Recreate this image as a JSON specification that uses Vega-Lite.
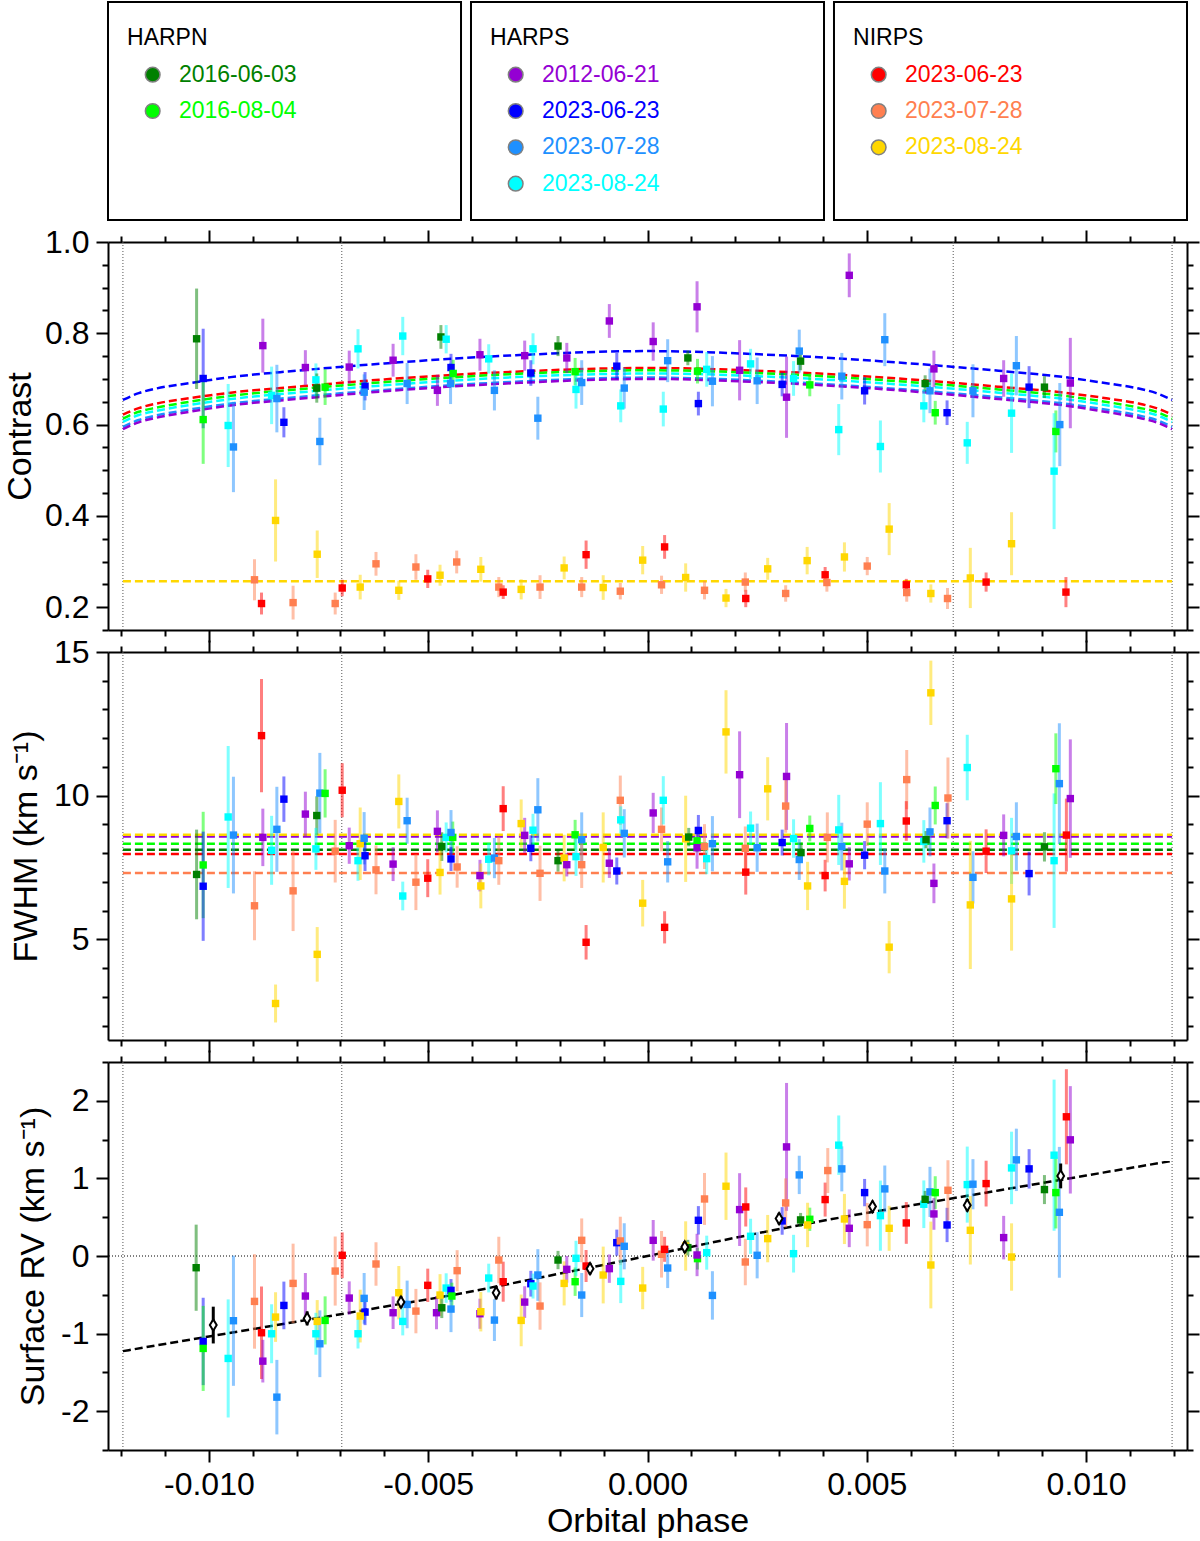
{
  "$schema": "https://vega.github.io/schema/vega-lite/v6.json",
  "background": "white",
  "padding": {"left": 3, "top": 1, "right": 0, "bottom": 0},
  "bounds": "flush",
  "spacing": 22,
  "config": {
    "view": {"stroke": null},
    "font": "Liberation Sans",
    "axis": {
      "grid": false, "domainColor": "black", "domainWidth": 2, "tickColor": "black", "tickWidth": 2,
      "labelFont": "Liberation Sans", "labelFontSize": 32, "labelColor": "black", "labelPadding": 7,
      "titleFont": "Liberation Sans", "titleFontSize": 34, "titleFontWeight": "normal", "titleColor": "black",
      "labelOverlap": false, "labelFlush": false
    }
  },
  "datasets": {
    "leg": [
      {"g": "HARPN", "r": 0, "t": "HARPN", "k": ""},
      {"g": "HARPN", "r": 1, "t": "2016-06-03", "k": "N1"},
      {"g": "HARPN", "r": 2, "t": "2016-08-04", "k": "N2"},
      {"g": "HARPS", "r": 0, "t": "HARPS", "k": ""},
      {"g": "HARPS", "r": 1, "t": "2012-06-21", "k": "S1"},
      {"g": "HARPS", "r": 2, "t": "2023-06-23", "k": "S2"},
      {"g": "HARPS", "r": 3, "t": "2023-07-28", "k": "S3"},
      {"g": "HARPS", "r": 4, "t": "2023-08-24", "k": "S4"},
      {"g": "NIRPS", "r": 0, "t": "NIRPS", "k": ""},
      {"g": "NIRPS", "r": 1, "t": "2023-06-23", "k": "R1"},
      {"g": "NIRPS", "r": 2, "t": "2023-07-28", "k": "R2"},
      {"g": "NIRPS", "r": 3, "t": "2023-08-24", "k": "R3"}
    ],
    "vl": [{"x": -0.01196}, {"x": -0.00697}, {"x": 0.00697}, {"x": 0.01196}],
    "bins": [
      {"x": -0.0099, "y": -0.89, "e": 0.237},
      {"x": -0.00776, "y": -0.804, "e": 0.09},
      {"x": -0.00562, "y": -0.594, "e": 0.075},
      {"x": -0.00345, "y": -0.473, "e": 0.086},
      {"x": -0.00131, "y": -0.163, "e": 0.075},
      {"x": 0.00085, "y": 0.116, "e": 0.075},
      {"x": 0.003, "y": 0.482, "e": 0.075},
      {"x": 0.00513, "y": 0.637, "e": 0.075},
      {"x": 0.00729, "y": 0.654, "e": 0.08},
      {"x": 0.00942, "y": 1.032, "e": 0.16}
    ],
    "mdl": [
      {"p": "c", "k": "S2", "x": -0.01196, "y": 0.654}, {"p": "c", "k": "S2", "x": -0.0116, "y": 0.669}, {"p": "c", "k": "S2", "x": -0.0112, "y": 0.679}, {"p": "c", "k": "S2", "x": -0.0105, "y": 0.69}, {"p": "c", "k": "S2", "x": -0.0095, "y": 0.704}, {"p": "c", "k": "S2", "x": -0.008, "y": 0.718}, {"p": "c", "k": "S2", "x": -0.006, "y": 0.734}, {"p": "c", "k": "S2", "x": -0.003, "y": 0.752}, {"p": "c", "k": "S2", "x": 0, "y": 0.761}, {"p": "c", "k": "S2", "x": 0.003, "y": 0.752}, {"p": "c", "k": "S2", "x": 0.006, "y": 0.734}, {"p": "c", "k": "S2", "x": 0.008, "y": 0.718}, {"p": "c", "k": "S2", "x": 0.0095, "y": 0.704}, {"p": "c", "k": "S2", "x": 0.0105, "y": 0.69}, {"p": "c", "k": "S2", "x": 0.0112, "y": 0.679}, {"p": "c", "k": "S2", "x": 0.0116, "y": 0.669}, {"p": "c", "k": "S2", "x": 0.01196, "y": 0.654},
      {"p": "c", "k": "R1", "x": -0.01196, "y": 0.622}, {"p": "c", "k": "R1", "x": -0.0116, "y": 0.636}, {"p": "c", "k": "R1", "x": -0.0112, "y": 0.646}, {"p": "c", "k": "R1", "x": -0.0105, "y": 0.657}, {"p": "c", "k": "R1", "x": -0.0095, "y": 0.67}, {"p": "c", "k": "R1", "x": -0.008, "y": 0.683}, {"p": "c", "k": "R1", "x": -0.006, "y": 0.699}, {"p": "c", "k": "R1", "x": -0.003, "y": 0.716}, {"p": "c", "k": "R1", "x": 0, "y": 0.724}, {"p": "c", "k": "R1", "x": 0.003, "y": 0.716}, {"p": "c", "k": "R1", "x": 0.006, "y": 0.699}, {"p": "c", "k": "R1", "x": 0.008, "y": 0.683}, {"p": "c", "k": "R1", "x": 0.0095, "y": 0.67}, {"p": "c", "k": "R1", "x": 0.0105, "y": 0.657}, {"p": "c", "k": "R1", "x": 0.0112, "y": 0.646}, {"p": "c", "k": "R1", "x": 0.0116, "y": 0.636}, {"p": "c", "k": "R1", "x": 0.01196, "y": 0.622},
      {"p": "c", "k": "N2", "x": -0.01196, "y": 0.613}, {"p": "c", "k": "N2", "x": -0.0116, "y": 0.628}, {"p": "c", "k": "N2", "x": -0.0112, "y": 0.637}, {"p": "c", "k": "N2", "x": -0.0105, "y": 0.649}, {"p": "c", "k": "N2", "x": -0.0095, "y": 0.663}, {"p": "c", "k": "N2", "x": -0.008, "y": 0.677}, {"p": "c", "k": "N2", "x": -0.006, "y": 0.693}, {"p": "c", "k": "N2", "x": -0.003, "y": 0.711}, {"p": "c", "k": "N2", "x": 0, "y": 0.719}, {"p": "c", "k": "N2", "x": 0.003, "y": 0.711}, {"p": "c", "k": "N2", "x": 0.006, "y": 0.693}, {"p": "c", "k": "N2", "x": 0.008, "y": 0.677}, {"p": "c", "k": "N2", "x": 0.0095, "y": 0.663}, {"p": "c", "k": "N2", "x": 0.0105, "y": 0.649}, {"p": "c", "k": "N2", "x": 0.0112, "y": 0.637}, {"p": "c", "k": "N2", "x": 0.0116, "y": 0.628}, {"p": "c", "k": "N2", "x": 0.01196, "y": 0.613},
      {"p": "c", "k": "S4", "x": -0.01196, "y": 0.606}, {"p": "c", "k": "S4", "x": -0.0116, "y": 0.621}, {"p": "c", "k": "S4", "x": -0.0112, "y": 0.63}, {"p": "c", "k": "S4", "x": -0.0105, "y": 0.642}, {"p": "c", "k": "S4", "x": -0.0095, "y": 0.656}, {"p": "c", "k": "S4", "x": -0.008, "y": 0.67}, {"p": "c", "k": "S4", "x": -0.006, "y": 0.686}, {"p": "c", "k": "S4", "x": -0.003, "y": 0.704}, {"p": "c", "k": "S4", "x": 0, "y": 0.712}, {"p": "c", "k": "S4", "x": 0.003, "y": 0.704}, {"p": "c", "k": "S4", "x": 0.006, "y": 0.686}, {"p": "c", "k": "S4", "x": 0.008, "y": 0.67}, {"p": "c", "k": "S4", "x": 0.0095, "y": 0.656}, {"p": "c", "k": "S4", "x": 0.0105, "y": 0.642}, {"p": "c", "k": "S4", "x": 0.0112, "y": 0.63}, {"p": "c", "k": "S4", "x": 0.0116, "y": 0.621}, {"p": "c", "k": "S4", "x": 0.01196, "y": 0.606},
      {"p": "c", "k": "S3", "x": -0.01196, "y": 0.595}, {"p": "c", "k": "S3", "x": -0.0116, "y": 0.61}, {"p": "c", "k": "S3", "x": -0.0112, "y": 0.62}, {"p": "c", "k": "S3", "x": -0.0105, "y": 0.632}, {"p": "c", "k": "S3", "x": -0.0095, "y": 0.646}, {"p": "c", "k": "S3", "x": -0.008, "y": 0.66}, {"p": "c", "k": "S3", "x": -0.006, "y": 0.676}, {"p": "c", "k": "S3", "x": -0.003, "y": 0.694}, {"p": "c", "k": "S3", "x": 0, "y": 0.703}, {"p": "c", "k": "S3", "x": 0.003, "y": 0.694}, {"p": "c", "k": "S3", "x": 0.006, "y": 0.676}, {"p": "c", "k": "S3", "x": 0.008, "y": 0.66}, {"p": "c", "k": "S3", "x": 0.0095, "y": 0.646}, {"p": "c", "k": "S3", "x": 0.0105, "y": 0.632}, {"p": "c", "k": "S3", "x": 0.0112, "y": 0.62}, {"p": "c", "k": "S3", "x": 0.0116, "y": 0.61}, {"p": "c", "k": "S3", "x": 0.01196, "y": 0.595},
      {"p": "c", "k": "S1", "x": -0.01196, "y": 0.59}, {"p": "c", "k": "S1", "x": -0.0116, "y": 0.605}, {"p": "c", "k": "S1", "x": -0.0112, "y": 0.615}, {"p": "c", "k": "S1", "x": -0.0105, "y": 0.627}, {"p": "c", "k": "S1", "x": -0.0095, "y": 0.642}, {"p": "c", "k": "S1", "x": -0.008, "y": 0.656}, {"p": "c", "k": "S1", "x": -0.006, "y": 0.673}, {"p": "c", "k": "S1", "x": -0.003, "y": 0.691}, {"p": "c", "k": "S1", "x": 0, "y": 0.7}, {"p": "c", "k": "S1", "x": 0.003, "y": 0.691}, {"p": "c", "k": "S1", "x": 0.006, "y": 0.673}, {"p": "c", "k": "S1", "x": 0.008, "y": 0.656}, {"p": "c", "k": "S1", "x": 0.0095, "y": 0.642}, {"p": "c", "k": "S1", "x": 0.0105, "y": 0.627}, {"p": "c", "k": "S1", "x": 0.0112, "y": 0.615}, {"p": "c", "k": "S1", "x": 0.0116, "y": 0.605}, {"p": "c", "k": "S1", "x": 0.01196, "y": 0.59},
      {"p": "c", "k": "R3", "x": -0.01196, "y": 0.257}, {"p": "c", "k": "R3", "x": 0.01196, "y": 0.257},
      {"p": "f", "k": "R2", "x": -0.01196, "y": 7.31}, {"p": "f", "k": "R2", "x": 0.01196, "y": 7.31},
      {"p": "f", "k": "R1", "x": -0.01196, "y": 7.97}, {"p": "f", "k": "R1", "x": 0.01196, "y": 7.97},
      {"p": "f", "k": "N1", "x": -0.01196, "y": 8.12}, {"p": "f", "k": "N1", "x": 0.01196, "y": 8.12},
      {"p": "f", "k": "N2", "x": -0.01196, "y": 8.33}, {"p": "f", "k": "N2", "x": 0.01196, "y": 8.33},
      {"p": "f", "k": "S1", "x": -0.01196, "y": 8.58}, {"p": "f", "k": "S1", "x": 0.01196, "y": 8.58},
      {"p": "f", "k": "R3", "x": -0.01196, "y": 8.64}, {"p": "f", "k": "R3", "x": 0.01196, "y": 8.64},
      {"p": "v", "k": "M", "x": -0.01196, "y": -1.226}, {"p": "v", "k": "M", "x": -0.01, "y": -1.037}, {"p": "v", "k": "M", "x": -0.008, "y": -0.847}, {"p": "v", "k": "M", "x": -0.006, "y": -0.653}, {"p": "v", "k": "M", "x": -0.0045, "y": -0.508}, {"p": "v", "k": "M", "x": -0.002, "y": -0.227}, {"p": "v", "k": "M", "x": 0, "y": 0.0}, {"p": "v", "k": "M", "x": 0.002, "y": 0.235}, {"p": "v", "k": "M", "x": 0.0045, "y": 0.506}, {"p": "v", "k": "M", "x": 0.006, "y": 0.651}, {"p": "v", "k": "M", "x": 0.008, "y": 0.844}, {"p": "v", "k": "M", "x": 0.01, "y": 1.037}, {"p": "v", "k": "M", "x": 0.01196, "y": 1.226}
    ],
    "pts": [
      {"p": "c", "k": "N1", "x": -0.01028, "y": 0.788, "e": 0.11},
      {"p": "c", "k": "S2", "x": -0.01013, "y": 0.701, "e": 0.109},
      {"p": "c", "k": "N2", "x": -0.01013, "y": 0.611, "e": 0.097},
      {"p": "c", "k": "S1", "x": -0.00877, "y": 0.773, "e": 0.059},
      {"p": "c", "k": "S4", "x": -0.00956, "y": 0.598, "e": 0.091},
      {"p": "c", "k": "S3", "x": -0.00944, "y": 0.551, "e": 0.099},
      {"p": "c", "k": "S4", "x": -0.00857, "y": 0.664, "e": 0.063},
      {"p": "c", "k": "S3", "x": -0.00845, "y": 0.657, "e": 0.074},
      {"p": "c", "k": "S2", "x": -0.00829, "y": 0.605, "e": 0.033},
      {"p": "c", "k": "S1", "x": -0.0078, "y": 0.725, "e": 0.038},
      {"p": "c", "k": "S4", "x": -0.00756, "y": 0.698, "e": 0.036},
      {"p": "c", "k": "N1", "x": -0.00754, "y": 0.68, "e": 0.032},
      {"p": "c", "k": "N2", "x": -0.00735, "y": 0.682, "e": 0.039},
      {"p": "c", "k": "S3", "x": -0.00747, "y": 0.563, "e": 0.052},
      {"p": "c", "k": "S1", "x": -0.0068, "y": 0.726, "e": 0.036},
      {"p": "c", "k": "S4", "x": -0.0066, "y": 0.766, "e": 0.043},
      {"p": "c", "k": "S2", "x": -0.00644, "y": 0.684, "e": 0.031},
      {"p": "c", "k": "S3", "x": -0.00646, "y": 0.671, "e": 0.039},
      {"p": "c", "k": "S4", "x": -0.00558, "y": 0.794, "e": 0.042},
      {"p": "c", "k": "S1", "x": -0.0058, "y": 0.741, "e": 0.036},
      {"p": "c", "k": "S3", "x": -0.00548, "y": 0.69, "e": 0.045},
      {"p": "c", "k": "S1", "x": -0.00479, "y": 0.675, "e": 0.034},
      {"p": "c", "k": "N1", "x": -0.00471, "y": 0.792, "e": 0.026},
      {"p": "c", "k": "S4", "x": -0.00459, "y": 0.787, "e": 0.031},
      {"p": "c", "k": "S2", "x": -0.00448, "y": 0.725, "e": 0.03},
      {"p": "c", "k": "S3", "x": -0.00449, "y": 0.69, "e": 0.045},
      {"p": "c", "k": "N2", "x": -0.00443, "y": 0.712, "e": 0.03},
      {"p": "c", "k": "R2", "x": -0.00896, "y": 0.26, "e": 0.045},
      {"p": "c", "k": "R1", "x": -0.0088, "y": 0.208, "e": 0.024},
      {"p": "c", "k": "R3", "x": -0.00848, "y": 0.39, "e": 0.09},
      {"p": "c", "k": "R2", "x": -0.00808, "y": 0.21, "e": 0.037},
      {"p": "c", "k": "R3", "x": -0.00753, "y": 0.316, "e": 0.052},
      {"p": "c", "k": "R2", "x": -0.00712, "y": 0.208, "e": 0.024},
      {"p": "c", "k": "R1", "x": -0.00696, "y": 0.242, "e": 0.018},
      {"p": "c", "k": "R3", "x": -0.00655, "y": 0.244, "e": 0.027},
      {"p": "c", "k": "R2", "x": -0.00619, "y": 0.295, "e": 0.026},
      {"p": "c", "k": "R3", "x": -0.00567, "y": 0.237, "e": 0.021},
      {"p": "c", "k": "R2", "x": -0.00528, "y": 0.288, "e": 0.028},
      {"p": "c", "k": "R1", "x": -0.00501, "y": 0.262, "e": 0.02},
      {"p": "c", "k": "R3", "x": -0.00473, "y": 0.27, "e": 0.023},
      {"p": "c", "k": "R2", "x": -0.00435, "y": 0.299, "e": 0.025},
      {"p": "c", "k": "S1", "x": -0.00382, "y": 0.753, "e": 0.035},
      {"p": "c", "k": "S4", "x": -0.00362, "y": 0.744, "e": 0.032},
      {"p": "c", "k": "S3", "x": -0.00349, "y": 0.675, "e": 0.044},
      {"p": "c", "k": "S1", "x": -0.0028, "y": 0.751, "e": 0.033},
      {"p": "c", "k": "S4", "x": -0.00261, "y": 0.766, "e": 0.034},
      {"p": "c", "k": "S2", "x": -0.00266, "y": 0.713, "e": 0.028},
      {"p": "c", "k": "S3", "x": -0.0025, "y": 0.614, "e": 0.047},
      {"p": "c", "k": "N1", "x": -0.00204, "y": 0.772, "e": 0.022},
      {"p": "c", "k": "S1", "x": -0.00184, "y": 0.746, "e": 0.033},
      {"p": "c", "k": "N2", "x": -0.00165, "y": 0.716, "e": 0.03},
      {"p": "c", "k": "S4", "x": -0.00163, "y": 0.677, "e": 0.042},
      {"p": "c", "k": "S3", "x": -0.0015, "y": 0.692, "e": 0.049},
      {"p": "c", "k": "S1", "x": -0.00087, "y": 0.827, "e": 0.037},
      {"p": "c", "k": "S2", "x": -0.0007, "y": 0.728, "e": 0.029},
      {"p": "c", "k": "S3", "x": -0.00053, "y": 0.68, "e": 0.045},
      {"p": "c", "k": "S4", "x": -0.00061, "y": 0.641, "e": 0.036},
      {"p": "c", "k": "S1", "x": 0.00013, "y": 0.782, "e": 0.042},
      {"p": "c", "k": "S3", "x": 0.00046, "y": 0.74, "e": 0.047},
      {"p": "c", "k": "S4", "x": 0.00036, "y": 0.634, "e": 0.038},
      {"p": "c", "k": "S1", "x": 0.00113, "y": 0.858, "e": 0.056},
      {"p": "c", "k": "N1", "x": 0.00092, "y": 0.746, "e": 0.016},
      {"p": "c", "k": "N2", "x": 0.00114, "y": 0.717, "e": 0.027},
      {"p": "c", "k": "S2", "x": 0.00116, "y": 0.646, "e": 0.026},
      {"p": "c", "k": "S4", "x": 0.00135, "y": 0.721, "e": 0.038},
      {"p": "c", "k": "S3", "x": 0.00148, "y": 0.695, "e": 0.055},
      {"p": "c", "k": "S1", "x": 0.0021, "y": 0.719, "e": 0.066},
      {"p": "c", "k": "S4", "x": 0.00235, "y": 0.733, "e": 0.033},
      {"p": "c", "k": "S3", "x": 0.0025, "y": 0.696, "e": 0.051},
      {"p": "c", "k": "S2", "x": 0.00307, "y": 0.688, "e": 0.026},
      {"p": "c", "k": "S1", "x": 0.00317, "y": 0.66, "e": 0.089},
      {"p": "c", "k": "S4", "x": 0.00333, "y": 0.701, "e": 0.038},
      {"p": "c", "k": "S3", "x": 0.00346, "y": 0.761, "e": 0.047},
      {"p": "c", "k": "N1", "x": 0.00349, "y": 0.739, "e": 0.02},
      {"p": "c", "k": "N2", "x": 0.0037, "y": 0.687, "e": 0.025},
      {"p": "c", "k": "R3", "x": -0.0038, "y": 0.283, "e": 0.027},
      {"p": "c", "k": "R2", "x": -0.00339, "y": 0.244, "e": 0.022},
      {"p": "c", "k": "R1", "x": -0.00329, "y": 0.233, "e": 0.015},
      {"p": "c", "k": "R3", "x": -0.00288, "y": 0.239, "e": 0.022},
      {"p": "c", "k": "R2", "x": -0.00245, "y": 0.244, "e": 0.026},
      {"p": "c", "k": "R3", "x": -0.0019, "y": 0.286, "e": 0.025},
      {"p": "c", "k": "R2", "x": -0.0015, "y": 0.244, "e": 0.022},
      {"p": "c", "k": "R1", "x": -0.0014, "y": 0.315, "e": 0.031},
      {"p": "c", "k": "R3", "x": -0.00101, "y": 0.243, "e": 0.027},
      {"p": "c", "k": "R2", "x": -0.00062, "y": 0.235, "e": 0.018},
      {"p": "c", "k": "R3", "x": -0.00011, "y": 0.303, "e": 0.031},
      {"p": "c", "k": "R1", "x": 0.00039, "y": 0.332, "e": 0.026},
      {"p": "c", "k": "R2", "x": 0.00032, "y": 0.249, "e": 0.02},
      {"p": "c", "k": "R3", "x": 0.00087, "y": 0.265, "e": 0.031},
      {"p": "c", "k": "R2", "x": 0.0013, "y": 0.237, "e": 0.02},
      {"p": "c", "k": "R3", "x": 0.00179, "y": 0.22, "e": 0.02},
      {"p": "c", "k": "R1", "x": 0.00224, "y": 0.219, "e": 0.019},
      {"p": "c", "k": "R2", "x": 0.00223, "y": 0.255, "e": 0.021},
      {"p": "c", "k": "R3", "x": 0.00274, "y": 0.284, "e": 0.024},
      {"p": "c", "k": "R2", "x": 0.00315, "y": 0.23, "e": 0.018},
      {"p": "c", "k": "R3", "x": 0.00364, "y": 0.302, "e": 0.03},
      {"p": "c", "k": "R1", "x": 0.00405, "y": 0.271, "e": 0.017},
      {"p": "c", "k": "R2", "x": 0.00409, "y": 0.254, "e": 0.02},
      {"p": "c", "k": "S1", "x": 0.0046, "y": 0.927, "e": 0.048},
      {"p": "c", "k": "S3", "x": 0.00443, "y": 0.706, "e": 0.051},
      {"p": "c", "k": "S4", "x": 0.00436, "y": 0.589, "e": 0.056},
      {"p": "c", "k": "S2", "x": 0.00495, "y": 0.674, "e": 0.03},
      {"p": "c", "k": "S3", "x": 0.00541, "y": 0.786, "e": 0.058},
      {"p": "c", "k": "S4", "x": 0.00531, "y": 0.552, "e": 0.057},
      {"p": "c", "k": "R3", "x": 0.00449, "y": 0.31, "e": 0.032},
      {"p": "c", "k": "R2", "x": 0.00501, "y": 0.29, "e": 0.02},
      {"p": "c", "k": "R3", "x": 0.00551, "y": 0.371, "e": 0.057},
      {"p": "c", "k": "R1", "x": 0.0059, "y": 0.249, "e": 0.013},
      {"p": "c", "k": "R2", "x": 0.00591, "y": 0.232, "e": 0.02},
      {"p": "c", "k": "R3", "x": 0.00646, "y": 0.23, "e": 0.02},
      {"p": "c", "k": "R2", "x": 0.00684, "y": 0.219, "e": 0.023},
      {"p": "c", "k": "N1", "x": 0.00633, "y": 0.69, "e": 0.018},
      {"p": "c", "k": "S4", "x": 0.0063, "y": 0.641, "e": 0.036},
      {"p": "c", "k": "S3", "x": 0.00644, "y": 0.674, "e": 0.049},
      {"p": "c", "k": "S1", "x": 0.00653, "y": 0.722, "e": 0.04},
      {"p": "c", "k": "N2", "x": 0.00656, "y": 0.626, "e": 0.026},
      {"p": "c", "k": "S2", "x": 0.00683, "y": 0.626, "e": 0.027},
      {"p": "c", "k": "S4", "x": 0.00729, "y": 0.56, "e": 0.046},
      {"p": "c", "k": "S3", "x": 0.00742, "y": 0.674, "e": 0.058},
      {"p": "c", "k": "R3", "x": 0.00736, "y": 0.264, "e": 0.066},
      {"p": "c", "k": "R1", "x": 0.00772, "y": 0.255, "e": 0.021},
      {"p": "c", "k": "R3", "x": 0.0083, "y": 0.339, "e": 0.069},
      {"p": "c", "k": "S1", "x": 0.00812, "y": 0.701, "e": 0.04},
      {"p": "c", "k": "S4", "x": 0.0083, "y": 0.625, "e": 0.087},
      {"p": "c", "k": "S3", "x": 0.00841, "y": 0.729, "e": 0.065},
      {"p": "c", "k": "S2", "x": 0.0087, "y": 0.682, "e": 0.046},
      {"p": "c", "k": "N1", "x": 0.00905, "y": 0.682, "e": 0.024},
      {"p": "c", "k": "N2", "x": 0.00931, "y": 0.585, "e": 0.046},
      {"p": "c", "k": "S4", "x": 0.00927, "y": 0.498, "e": 0.127},
      {"p": "c", "k": "S3", "x": 0.0094, "y": 0.6, "e": 0.091},
      {"p": "c", "k": "S1", "x": 0.00964, "y": 0.691, "e": 0.099},
      {"p": "c", "k": "R1", "x": 0.00954, "y": 0.233, "e": 0.033},

      {"p": "f", "k": "N1", "x": -0.01028, "y": 7.26, "e": 1.56},
      {"p": "f", "k": "N2", "x": -0.01013, "y": 7.59, "e": 1.85},
      {"p": "f", "k": "S2", "x": -0.01013, "y": 6.85, "e": 1.9},
      {"p": "f", "k": "S4", "x": -0.00956, "y": 9.26, "e": 2.47},
      {"p": "f", "k": "S3", "x": -0.00944, "y": 8.63, "e": 2.03},
      {"p": "f", "k": "R1", "x": -0.0088, "y": 12.09, "e": 1.97},
      {"p": "f", "k": "S1", "x": -0.00877, "y": 8.55, "e": 1.0},
      {"p": "f", "k": "R2", "x": -0.00896, "y": 6.17, "e": 1.2},
      {"p": "f", "k": "S4", "x": -0.00857, "y": 8.1, "e": 1.2},
      {"p": "f", "k": "S3", "x": -0.00845, "y": 8.83, "e": 1.48},
      {"p": "f", "k": "S2", "x": -0.00829, "y": 9.88, "e": 0.79},
      {"p": "f", "k": "R2", "x": -0.00808, "y": 6.69, "e": 1.4},
      {"p": "f", "k": "R3", "x": -0.00848, "y": 2.77, "e": 0.66},
      {"p": "f", "k": "S1", "x": -0.0078, "y": 9.36, "e": 0.78},
      {"p": "f", "k": "N1", "x": -0.00754, "y": 9.31, "e": 0.67},
      {"p": "f", "k": "S4", "x": -0.00756, "y": 8.15, "e": 0.73},
      {"p": "f", "k": "S3", "x": -0.00747, "y": 10.09, "e": 1.4},
      {"p": "f", "k": "N2", "x": -0.00735, "y": 10.08, "e": 0.84},
      {"p": "f", "k": "R3", "x": -0.00753, "y": 4.48, "e": 0.95},
      {"p": "f", "k": "R1", "x": -0.00696, "y": 10.19, "e": 0.94},
      {"p": "f", "k": "R2", "x": -0.00712, "y": 8.07, "e": 1.09},
      {"p": "f", "k": "S1", "x": -0.0068, "y": 8.26, "e": 0.63},
      {"p": "f", "k": "S4", "x": -0.0066, "y": 7.74, "e": 0.7},
      {"p": "f", "k": "R3", "x": -0.00655, "y": 8.33, "e": 1.26},
      {"p": "f", "k": "S3", "x": -0.00646, "y": 8.52, "e": 0.91},
      {"p": "f", "k": "S2", "x": -0.00644, "y": 7.91, "e": 0.53},
      {"p": "f", "k": "R2", "x": -0.00619, "y": 7.42, "e": 0.85},
      {"p": "f", "k": "S1", "x": -0.0058, "y": 7.62, "e": 0.59},
      {"p": "f", "k": "R3", "x": -0.00567, "y": 9.8, "e": 0.94},
      {"p": "f", "k": "S3", "x": -0.00548, "y": 9.13, "e": 0.8},
      {"p": "f", "k": "S4", "x": -0.00558, "y": 6.51, "e": 0.5},
      {"p": "f", "k": "R2", "x": -0.00528, "y": 6.99, "e": 0.97},
      {"p": "f", "k": "R1", "x": -0.00501, "y": 7.13, "e": 0.66},
      {"p": "f", "k": "S1", "x": -0.00479, "y": 8.76, "e": 0.73},
      {"p": "f", "k": "N1", "x": -0.00469, "y": 8.23, "e": 0.5},
      {"p": "f", "k": "R3", "x": -0.00473, "y": 7.33, "e": 0.77},
      {"p": "f", "k": "S4", "x": -0.00459, "y": 8.55, "e": 0.52},
      {"p": "f", "k": "N2", "x": -0.00444, "y": 8.55, "e": 0.55},
      {"p": "f", "k": "S3", "x": -0.00448, "y": 8.72, "e": 0.78},
      {"p": "f", "k": "S2", "x": -0.00448, "y": 7.8, "e": 0.42},
      {"p": "f", "k": "R2", "x": -0.00434, "y": 7.52, "e": 0.72},
      {"p": "f", "k": "S1", "x": -0.00382, "y": 7.22, "e": 0.55},
      {"p": "f", "k": "R3", "x": -0.0038, "y": 6.86, "e": 0.78},
      {"p": "f", "k": "S4", "x": -0.00362, "y": 7.79, "e": 0.56},
      {"p": "f", "k": "S3", "x": -0.00349, "y": 7.83, "e": 0.7},
      {"p": "f", "k": "R2", "x": -0.00339, "y": 7.74, "e": 0.84},
      {"p": "f", "k": "R1", "x": -0.00329, "y": 9.55, "e": 0.78},
      {"p": "f", "k": "R3", "x": -0.00288, "y": 9.03, "e": 0.84},
      {"p": "f", "k": "S1", "x": -0.0028, "y": 8.62, "e": 0.61},
      {"p": "f", "k": "S4", "x": -0.00261, "y": 8.8, "e": 0.57},
      {"p": "f", "k": "S2", "x": -0.00266, "y": 8.17, "e": 0.45},
      {"p": "f", "k": "S3", "x": -0.0025, "y": 9.51, "e": 1.1},
      {"p": "f", "k": "R2", "x": -0.00245, "y": 7.3, "e": 0.96},
      {"p": "f", "k": "N1", "x": -0.00204, "y": 7.74, "e": 0.38},
      {"p": "f", "k": "R3", "x": -0.0019, "y": 7.83, "e": 0.81},
      {"p": "f", "k": "S1", "x": -0.00184, "y": 7.6, "e": 0.41},
      {"p": "f", "k": "N2", "x": -0.00165, "y": 8.64, "e": 0.52},
      {"p": "f", "k": "S4", "x": -0.00163, "y": 7.88, "e": 0.67},
      {"p": "f", "k": "S3", "x": -0.0015, "y": 8.47, "e": 0.95},
      {"p": "f", "k": "R2", "x": -0.0015, "y": 7.6, "e": 0.81},
      {"p": "f", "k": "R1", "x": -0.0014, "y": 4.9, "e": 0.6},
      {"p": "f", "k": "R3", "x": -0.00101, "y": 8.2, "e": 1.22},
      {"p": "f", "k": "S1", "x": -0.00087, "y": 7.65, "e": 0.51},
      {"p": "f", "k": "S2", "x": -0.0007, "y": 7.38, "e": 0.47},
      {"p": "f", "k": "R2", "x": -0.00062, "y": 9.84, "e": 0.86},
      {"p": "f", "k": "S4", "x": -0.00061, "y": 9.16, "e": 0.47},
      {"p": "f", "k": "S3", "x": -0.00053, "y": 8.69, "e": 0.84},
      {"p": "f", "k": "R3", "x": -0.00011, "y": 6.26, "e": 0.81},
      {"p": "f", "k": "S1", "x": 0.00013, "y": 9.4, "e": 0.7},
      {"p": "f", "k": "R2", "x": 0.00032, "y": 8.83, "e": 0.76},
      {"p": "f", "k": "R1", "x": 0.00039, "y": 5.42, "e": 0.56},
      {"p": "f", "k": "S4", "x": 0.00036, "y": 9.84, "e": 0.84},
      {"p": "f", "k": "S3", "x": 0.00046, "y": 7.7, "e": 0.72},
      {"p": "f", "k": "R3", "x": 0.00087, "y": 8.5, "e": 1.5},
      {"p": "f", "k": "N1", "x": 0.00094, "y": 8.56, "e": 0.32},
      {"p": "f", "k": "N2", "x": 0.00113, "y": 8.43, "e": 0.4},
      {"p": "f", "k": "S2", "x": 0.00116, "y": 8.79, "e": 0.54},
      {"p": "f", "k": "S1", "x": 0.00113, "y": 8.19, "e": 0.73},
      {"p": "f", "k": "R2", "x": 0.0013, "y": 8.23, "e": 0.78},
      {"p": "f", "k": "S4", "x": 0.00135, "y": 7.81, "e": 0.54},
      {"p": "f", "k": "S3", "x": 0.00148, "y": 8.33, "e": 0.96},
      {"p": "f", "k": "R3", "x": 0.00179, "y": 12.22, "e": 1.45},
      {"p": "f", "k": "S1", "x": 0.0021, "y": 10.73, "e": 1.51},
      {"p": "f", "k": "R2", "x": 0.00223, "y": 8.17, "e": 0.76},
      {"p": "f", "k": "R1", "x": 0.00224, "y": 7.34, "e": 0.78},
      {"p": "f", "k": "S4", "x": 0.00235, "y": 8.87, "e": 0.58},
      {"p": "f", "k": "S3", "x": 0.0025, "y": 8.19, "e": 0.84},
      {"p": "f", "k": "R3", "x": 0.00274, "y": 10.24, "e": 1.1},
      {"p": "f", "k": "S2", "x": 0.00307, "y": 8.37, "e": 0.45},
      {"p": "f", "k": "S1", "x": 0.00317, "y": 10.67, "e": 1.86},
      {"p": "f", "k": "R2", "x": 0.00315, "y": 9.64, "e": 0.93},
      {"p": "f", "k": "S4", "x": 0.00333, "y": 8.51, "e": 0.67},
      {"p": "f", "k": "S3", "x": 0.00346, "y": 7.78, "e": 0.71},
      {"p": "f", "k": "N1", "x": 0.0035, "y": 8.02, "e": 0.35},
      {"p": "f", "k": "N2", "x": 0.0037, "y": 8.86, "e": 0.45},
      {"p": "f", "k": "R3", "x": 0.00365, "y": 6.86, "e": 0.84},
      {"p": "f", "k": "R1", "x": 0.00405, "y": 7.22, "e": 0.55},
      {"p": "f", "k": "R2", "x": 0.0041, "y": 8.55, "e": 0.87},
      {"p": "f", "k": "S4", "x": 0.00436, "y": 8.81, "e": 1.22},
      {"p": "f", "k": "S3", "x": 0.00443, "y": 8.23, "e": 0.83},
      {"p": "f", "k": "R3", "x": 0.00449, "y": 7.02, "e": 0.95},
      {"p": "f", "k": "S1", "x": 0.0046, "y": 7.63, "e": 0.58},
      {"p": "f", "k": "S2", "x": 0.00495, "y": 7.93, "e": 0.49},
      {"p": "f", "k": "R2", "x": 0.00501, "y": 9.01, "e": 0.76},
      {"p": "f", "k": "S4", "x": 0.00531, "y": 9.03, "e": 1.44},
      {"p": "f", "k": "S3", "x": 0.00541, "y": 7.38, "e": 0.78},
      {"p": "f", "k": "R3", "x": 0.00551, "y": 4.73, "e": 0.91},
      {"p": "f", "k": "R2", "x": 0.00591, "y": 10.56, "e": 1.03},
      {"p": "f", "k": "R1", "x": 0.0059, "y": 9.12, "e": 0.69},
      {"p": "f", "k": "S4", "x": 0.0063, "y": 8.41, "e": 0.74},
      {"p": "f", "k": "N1", "x": 0.00635, "y": 8.47, "e": 0.3},
      {"p": "f", "k": "S3", "x": 0.00644, "y": 8.74, "e": 0.85},
      {"p": "f", "k": "S1", "x": 0.00653, "y": 6.95, "e": 0.69},
      {"p": "f", "k": "N2", "x": 0.00656, "y": 9.66, "e": 0.66},
      {"p": "f", "k": "R3", "x": 0.00646, "y": 13.58, "e": 1.12},
      {"p": "f", "k": "S2", "x": 0.00683, "y": 9.13, "e": 0.61},
      {"p": "f", "k": "R2", "x": 0.00685, "y": 9.92, "e": 1.41},
      {"p": "f", "k": "S4", "x": 0.00729, "y": 10.98, "e": 1.14},
      {"p": "f", "k": "S3", "x": 0.00742, "y": 7.16, "e": 0.91},
      {"p": "f", "k": "R3", "x": 0.00736, "y": 6.2, "e": 2.23},
      {"p": "f", "k": "R1", "x": 0.00772, "y": 8.07, "e": 0.76},
      {"p": "f", "k": "S1", "x": 0.00812, "y": 8.62, "e": 0.73},
      {"p": "f", "k": "S4", "x": 0.0083, "y": 8.08, "e": 1.15},
      {"p": "f", "k": "R3", "x": 0.0083, "y": 6.41, "e": 1.8},
      {"p": "f", "k": "S3", "x": 0.00841, "y": 8.58, "e": 1.19},
      {"p": "f", "k": "S2", "x": 0.0087, "y": 7.29, "e": 0.76},
      {"p": "f", "k": "N1", "x": 0.00905, "y": 8.22, "e": 0.51},
      {"p": "f", "k": "S4", "x": 0.00927, "y": 7.74, "e": 2.34},
      {"p": "f", "k": "N2", "x": 0.00931, "y": 10.94, "e": 1.23},
      {"p": "f", "k": "S3", "x": 0.00939, "y": 10.42, "e": 2.1},
      {"p": "f", "k": "S1", "x": 0.00964, "y": 9.9, "e": 2.06},
      {"p": "f", "k": "R1", "x": 0.00955, "y": 8.63, "e": 1.27},

      {"p": "v", "k": "N1", "x": -0.01029, "y": -0.151, "e": 0.555},
      {"p": "v", "k": "S2", "x": -0.01013, "y": -1.101, "e": 0.563},
      {"p": "v", "k": "N2", "x": -0.01013, "y": -1.191, "e": 0.548},
      {"p": "v", "k": "S4", "x": -0.00956, "y": -1.32, "e": 0.761},
      {"p": "v", "k": "S3", "x": -0.00944, "y": -0.834, "e": 0.839},
      {"p": "v", "k": "R2", "x": -0.00896, "y": -0.585, "e": 0.609},
      {"p": "v", "k": "R1", "x": -0.0088, "y": -0.989, "e": 0.596},
      {"p": "v", "k": "S1", "x": -0.00877, "y": -1.355, "e": 0.275},
      {"p": "v", "k": "S4", "x": -0.00857, "y": -1.002, "e": 0.38},
      {"p": "v", "k": "R3", "x": -0.00848, "y": -0.787, "e": 0.32},
      {"p": "v", "k": "S3", "x": -0.00845, "y": -1.819, "e": 0.48},
      {"p": "v", "k": "S2", "x": -0.00829, "y": -0.637, "e": 0.307},
      {"p": "v", "k": "R2", "x": -0.00808, "y": -0.353, "e": 0.512},
      {"p": "v", "k": "S1", "x": -0.0078, "y": -0.516, "e": 0.297},
      {"p": "v", "k": "R3", "x": -0.00753, "y": -0.843, "e": 0.275},
      {"p": "v", "k": "S4", "x": -0.00756, "y": -1.002, "e": 0.27},
      {"p": "v", "k": "S3", "x": -0.00747, "y": -1.131, "e": 0.43},
      {"p": "v", "k": "N2", "x": -0.00735, "y": -0.83, "e": 0.31},
      {"p": "v", "k": "R2", "x": -0.00712, "y": -0.194, "e": 0.445},
      {"p": "v", "k": "R1", "x": -0.00696, "y": 0.009, "e": 0.295},
      {"p": "v", "k": "S1", "x": -0.0068, "y": -0.542, "e": 0.215},
      {"p": "v", "k": "S3", "x": -0.00646, "y": -0.546, "e": 0.327},
      {"p": "v", "k": "S2", "x": -0.00644, "y": -0.723, "e": 0.168},
      {"p": "v", "k": "S4", "x": -0.0066, "y": -1.002, "e": 0.19},
      {"p": "v", "k": "R3", "x": -0.00655, "y": -0.774, "e": 0.34},
      {"p": "v", "k": "R2", "x": -0.00619, "y": -0.103, "e": 0.28},
      {"p": "v", "k": "S1", "x": -0.0058, "y": -0.731, "e": 0.21},
      {"p": "v", "k": "R3", "x": -0.00567, "y": -0.473, "e": 0.344},
      {"p": "v", "k": "S4", "x": -0.00558, "y": -0.843, "e": 0.18},
      {"p": "v", "k": "S3", "x": -0.00548, "y": -0.624, "e": 0.307},
      {"p": "v", "k": "R2", "x": -0.00528, "y": -0.71, "e": 0.286},
      {"p": "v", "k": "R1", "x": -0.00501, "y": -0.378, "e": 0.215},
      {"p": "v", "k": "S1", "x": -0.00481, "y": -0.731, "e": 0.213},
      {"p": "v", "k": "R3", "x": -0.00473, "y": -0.503, "e": 0.269},
      {"p": "v", "k": "N1", "x": -0.00469, "y": -0.667, "e": 0.133},
      {"p": "v", "k": "S4", "x": -0.00459, "y": -0.413, "e": 0.19},
      {"p": "v", "k": "S2", "x": -0.00448, "y": -0.443, "e": 0.146},
      {"p": "v", "k": "N2", "x": -0.00446, "y": -0.516, "e": 0.172},
      {"p": "v", "k": "S3", "x": -0.00448, "y": -0.684, "e": 0.297},
      {"p": "v", "k": "R2", "x": -0.00434, "y": -0.189, "e": 0.264},
      {"p": "v", "k": "S1", "x": -0.00382, "y": -0.744, "e": 0.194},
      {"p": "v", "k": "R3", "x": -0.0038, "y": -0.718, "e": 0.254},
      {"p": "v", "k": "S4", "x": -0.00362, "y": -0.284, "e": 0.185},
      {"p": "v", "k": "S3", "x": -0.00349, "y": -0.826, "e": 0.269},
      {"p": "v", "k": "R2", "x": -0.00339, "y": -0.052, "e": 0.3},
      {"p": "v", "k": "R1", "x": -0.00329, "y": -0.331, "e": 0.258},
      {"p": "v", "k": "R3", "x": -0.00288, "y": -0.83, "e": 0.333},
      {"p": "v", "k": "S1", "x": -0.0028, "y": -0.594, "e": 0.204},
      {"p": "v", "k": "S2", "x": -0.00266, "y": -0.357, "e": 0.166},
      {"p": "v", "k": "S4", "x": -0.00261, "y": -0.387, "e": 0.161},
      {"p": "v", "k": "S3", "x": -0.0025, "y": -0.245, "e": 0.333},
      {"p": "v", "k": "R2", "x": -0.00245, "y": -0.645, "e": 0.305},
      {"p": "v", "k": "N1", "x": -0.00204, "y": -0.052, "e": 0.118},
      {"p": "v", "k": "R3", "x": -0.0019, "y": -0.353, "e": 0.284},
      {"p": "v", "k": "S1", "x": -0.00184, "y": -0.172, "e": 0.172},
      {"p": "v", "k": "N2", "x": -0.00165, "y": -0.331, "e": 0.183},
      {"p": "v", "k": "S4", "x": -0.00163, "y": -0.03, "e": 0.226},
      {"p": "v", "k": "S3", "x": -0.0015, "y": -0.503, "e": 0.284},
      {"p": "v", "k": "R2", "x": -0.0015, "y": 0.202, "e": 0.282},
      {"p": "v", "k": "R1", "x": -0.0014, "y": -0.129, "e": 0.206},
      {"p": "v", "k": "R3", "x": -0.00101, "y": -0.245, "e": 0.366},
      {"p": "v", "k": "S1", "x": -0.00087, "y": -0.163, "e": 0.183},
      {"p": "v", "k": "S2", "x": -0.0007, "y": 0.172, "e": 0.168},
      {"p": "v", "k": "R2", "x": -0.00062, "y": 0.194, "e": 0.312},
      {"p": "v", "k": "S4", "x": -0.00061, "y": -0.327, "e": 0.28},
      {"p": "v", "k": "S3", "x": -0.00053, "y": 0.125, "e": 0.297},
      {"p": "v", "k": "R3", "x": -0.00011, "y": -0.413, "e": 0.273},
      {"p": "v", "k": "S1", "x": 0.00013, "y": 0.202, "e": 0.262},
      {"p": "v", "k": "R2", "x": 0.00032, "y": 0.022, "e": 0.3},
      {"p": "v", "k": "R1", "x": 0.00039, "y": 0.086, "e": 0.161},
      {"p": "v", "k": "S3", "x": 0.00046, "y": -0.155, "e": 0.258},
      {"p": "v", "k": "R3", "x": 0.00087, "y": 0.129, "e": 0.318},
      {"p": "v", "k": "N1", "x": 0.00092, "y": 0.108, "e": 0.1},
      {"p": "v", "k": "N2", "x": 0.00114, "y": -0.034, "e": 0.14},
      {"p": "v", "k": "S2", "x": 0.00116, "y": 0.46, "e": 0.183},
      {"p": "v", "k": "S1", "x": 0.00113, "y": 0.013, "e": 0.273},
      {"p": "v", "k": "S4", "x": 0.00135, "y": 0.043, "e": 0.219},
      {"p": "v", "k": "R2", "x": 0.0013, "y": 0.735, "e": 0.335},
      {"p": "v", "k": "S3", "x": 0.00148, "y": -0.508, "e": 0.312},
      {"p": "v", "k": "R3", "x": 0.00179, "y": 0.899, "e": 0.434},
      {"p": "v", "k": "S1", "x": 0.0021, "y": 0.598, "e": 0.469},
      {"p": "v", "k": "R1", "x": 0.00224, "y": 0.632, "e": 0.252},
      {"p": "v", "k": "R2", "x": 0.00223, "y": -0.077, "e": 0.3},
      {"p": "v", "k": "S4", "x": 0.00235, "y": 0.254, "e": 0.226},
      {"p": "v", "k": "S3", "x": 0.0025, "y": 0.009, "e": 0.297},
      {"p": "v", "k": "R3", "x": 0.00274, "y": 0.224, "e": 0.305},
      {"p": "v", "k": "S2", "x": 0.00307, "y": 0.452, "e": 0.178},
      {"p": "v", "k": "S1", "x": 0.00317, "y": 1.406, "e": 0.824},
      {"p": "v", "k": "R2", "x": 0.00315, "y": 0.684, "e": 0.316},
      {"p": "v", "k": "S4", "x": 0.00333, "y": 0.03, "e": 0.243},
      {"p": "v", "k": "S3", "x": 0.00346, "y": 1.045, "e": 0.247},
      {"p": "v", "k": "N1", "x": 0.00349, "y": 0.465, "e": 0.09},
      {"p": "v", "k": "N2", "x": 0.0037, "y": 0.473, "e": 0.15},
      {"p": "v", "k": "R3", "x": 0.00365, "y": 0.4, "e": 0.286},
      {"p": "v", "k": "R1", "x": 0.00405, "y": 0.727, "e": 0.219},
      {"p": "v", "k": "R2", "x": 0.00411, "y": 1.101, "e": 0.29},
      {"p": "v", "k": "S4", "x": 0.00436, "y": 1.428, "e": 0.383},
      {"p": "v", "k": "S3", "x": 0.00443, "y": 1.123, "e": 0.29},
      {"p": "v", "k": "R3", "x": 0.00449, "y": 0.477, "e": 0.323},
      {"p": "v", "k": "S1", "x": 0.0046, "y": 0.357, "e": 0.243},
      {"p": "v", "k": "S2", "x": 0.00495, "y": 0.817, "e": 0.176},
      {"p": "v", "k": "R2", "x": 0.00501, "y": 0.404, "e": 0.28},
      {"p": "v", "k": "S4", "x": 0.00531, "y": 0.52, "e": 0.452},
      {"p": "v", "k": "S3", "x": 0.00541, "y": 0.865, "e": 0.301},
      {"p": "v", "k": "R3", "x": 0.00551, "y": 0.357, "e": 0.29},
      {"p": "v", "k": "R1", "x": 0.0059, "y": 0.426, "e": 0.269},
      {"p": "v", "k": "S4", "x": 0.0063, "y": 0.667, "e": 0.307},
      {"p": "v", "k": "N1", "x": 0.00633, "y": 0.731, "e": 0.108},
      {"p": "v", "k": "S3", "x": 0.00644, "y": 0.826, "e": 0.323},
      {"p": "v", "k": "N2", "x": 0.00656, "y": 0.817, "e": 0.211},
      {"p": "v", "k": "S1", "x": 0.00653, "y": 0.542, "e": 0.204},
      {"p": "v", "k": "R3", "x": 0.00646, "y": -0.116, "e": 0.559},
      {"p": "v", "k": "S2", "x": 0.00683, "y": 0.4, "e": 0.221},
      {"p": "v", "k": "R2", "x": 0.00685, "y": 0.847, "e": 0.387},
      {"p": "v", "k": "S4", "x": 0.00729, "y": 0.92, "e": 0.49},
      {"p": "v", "k": "S3", "x": 0.00742, "y": 0.925, "e": 0.323},
      {"p": "v", "k": "R3", "x": 0.00736, "y": 0.331, "e": 0.441},
      {"p": "v", "k": "R1", "x": 0.00772, "y": 0.933, "e": 0.295},
      {"p": "v", "k": "S1", "x": 0.00812, "y": 0.237, "e": 0.28},
      {"p": "v", "k": "S4", "x": 0.0083, "y": 1.135, "e": 0.467},
      {"p": "v", "k": "R3", "x": 0.0083, "y": -0.013, "e": 0.434},
      {"p": "v", "k": "S3", "x": 0.00841, "y": 1.239, "e": 0.402},
      {"p": "v", "k": "S2", "x": 0.0087, "y": 1.123, "e": 0.254},
      {"p": "v", "k": "N1", "x": 0.00905, "y": 0.856, "e": 0.187},
      {"p": "v", "k": "S4", "x": 0.00927, "y": 1.299, "e": 0.974},
      {"p": "v", "k": "N2", "x": 0.00931, "y": 0.817, "e": 0.462},
      {"p": "v", "k": "S3", "x": 0.00939, "y": 0.563, "e": 0.843},
      {"p": "v", "k": "R1", "x": 0.00955, "y": 1.794, "e": 0.613},
      {"p": "v", "k": "S1", "x": 0.00964, "y": 1.497, "e": 0.692}
    ]
  },
  "vconcat": [
    {
      "width": 1079,
      "height": 218,
      "data": {"name": "leg"},
      "layer": [
        {
          "transform": [{"filter": "datum.r == 0"}],
          "mark": {"type": "rect", "fill": "white", "stroke": "black", "strokeWidth": 2},
          "encoding": {
            "x": {"field": "g", "type": "nominal", "axis": null,
                  "scale": {"type": "band", "domain": ["HARPN", "HARPS", "NIRPS"], "paddingInner": 0.0275, "paddingOuter": 0}}
          }
        },
        {
          "transform": [{"filter": "datum.r == 0"}],
          "mark": {"type": "text", "align": "left", "baseline": "middle", "fontSize": 23, "font": "Liberation Sans", "color": "black"},
          "encoding": {
            "x": {"field": "g", "type": "nominal", "axis": null, "bandPosition": 0.054},
            "y": {"field": "r", "type": "quantitative", "axis": null, "scale": {"domain": [-1, 5], "reverse": true, "nice": false, "zero": false}},
            "text": {"field": "t"}
          }
        },
        {
          "transform": [{"filter": "datum.r > 0"}],
          "mark": {"type": "circle", "size": 215, "stroke": "#808080", "strokeWidth": 1.5, "opacity": 1},
          "encoding": {
            "x": {"field": "g", "type": "nominal", "axis": null, "bandPosition": 0.1266},
            "y": {"field": "r", "type": "quantitative", "axis": null},
            "color": {"field": "k", "type": "nominal", "legend": null,
                      "scale": {"domain": ["N1", "N2", "S1", "S2", "S3", "S4", "R1", "R2", "R3"], "range": ["#008000", "#00ff00", "#9400d3", "#0000ff", "#1e90ff", "#00ffff", "#ff0000", "#ff7f50", "#ffd700"]}}
          }
        },
        {
          "transform": [{"filter": "datum.r > 0"}],
          "mark": {"type": "text", "align": "left", "baseline": "middle", "fontSize": 23, "font": "Liberation Sans"},
          "encoding": {
            "x": {"field": "g", "type": "nominal", "axis": null, "bandPosition": 0.201},
            "y": {"field": "r", "type": "quantitative", "axis": null},
            "text": {"field": "t"},
            "color": {"field": "k", "type": "nominal", "legend": null}
          }
        }
      ]
    },
    {
      "width": 1079,
      "height": 388,
      "layer": [
        {
          "data": {"name": "vl"},
          "mark": {"type": "rule", "color": "#555555", "strokeWidth": 1, "strokeDash": [1, 2]},
          "encoding": {"x": {"field": "x", "type": "quantitative", "axis": null}}
        },
        {
          "data": {"name": "mdl"},
          "transform": [{"filter": "datum.p == 'c'"}],
          "mark": {"type": "line", "strokeWidth": 2.5, "strokeDash": [8, 4], "interpolate": "monotone"},
          "encoding": {
            "x": {"field": "x", "type": "quantitative", "axis": null},
            "y": {"field": "y", "type": "quantitative", "axis": null},
            "color": {"field": "k", "type": "nominal", "legend": null}
          }
        },
        {
          "data": {"name": "pts"},
          "transform": [{"filter": "datum.p == 'c'"}],
          "mark": {"type": "errorbar", "thickness": 3, "opacity": 0.5},
          "encoding": {
            "x": {"field": "x", "type": "quantitative", "scale": {"domain": [-0.0123, 0.0123], "nice": false, "zero": false},
                  "axis": {"orient": "bottom", "labels": false, "title": null,
                           "values": [-0.012, -0.011, -0.01, -0.009, -0.008, -0.007, -0.006, -0.005, -0.004, -0.003, -0.002, -0.001, 0, 0.001, 0.002, 0.003, 0.004, 0.005, 0.006, 0.007, 0.008, 0.009, 0.01, 0.011, 0.012],
                           "tickSize": {"condition": {"test": "indexof([-0.01, -0.005, 0, 0.005, 0.01], datum.value) >= 0", "value": 12}, "value": 6}}},
            "y": {"field": "y", "type": "quantitative", "scale": {"domain": [0.15, 1.0], "nice": false, "zero": false},
                  "axis": {"orient": "left", "title": "Contrast", "titlePadding": 7,
                           "values": [0.15, 0.2, 0.25, 0.3, 0.35, 0.4, 0.45, 0.5, 0.55, 0.6, 0.65, 0.7, 0.75, 0.8, 0.85, 0.9, 0.95, 1.0],
                           "labelExpr": "indexof([0.2, 0.4, 0.6, 0.8, 1], datum.value) >= 0 ? format(datum.value, '.1f') : ''",
                           "tickSize": {"condition": {"test": "indexof([0.2, 0.4, 0.6, 0.8, 1], datum.value) >= 0", "value": 12}, "value": 6}}},
            "yError": {"field": "e"},
            "color": {"field": "k", "type": "nominal", "legend": null}
          }
        },
        {
          "data": {"name": "pts"},
          "transform": [{"filter": "datum.p == 'c'"}],
          "mark": {"type": "square", "size": 55, "opacity": 1},
          "encoding": {
            "x": {"field": "x", "type": "quantitative",
                  "axis": {"orient": "top", "labels": false, "title": null,
                           "values": [-0.012, -0.011, -0.01, -0.009, -0.008, -0.007, -0.006, -0.005, -0.004, -0.003, -0.002, -0.001, 0, 0.001, 0.002, 0.003, 0.004, 0.005, 0.006, 0.007, 0.008, 0.009, 0.01, 0.011, 0.012],
                           "tickSize": {"condition": {"test": "indexof([-0.01, -0.005, 0, 0.005, 0.01], datum.value) >= 0", "value": 12}, "value": 6}}},
            "y": {"field": "y", "type": "quantitative",
                  "axis": {"orient": "right", "labels": false, "title": null,
                           "values": [0.15, 0.2, 0.25, 0.3, 0.35, 0.4, 0.45, 0.5, 0.55, 0.6, 0.65, 0.7, 0.75, 0.8, 0.85, 0.9, 0.95, 1.0],
                           "tickSize": {"condition": {"test": "indexof([0.2, 0.4, 0.6, 0.8, 1], datum.value) >= 0", "value": 12}, "value": 6}}},
            "color": {"field": "k", "type": "nominal", "legend": null}
          }
        }
      ],
      "resolve": {"axis": {"x": "independent", "y": "independent"}}
    },
    {
      "width": 1079,
      "height": 388,
      "layer": [
        {
          "data": {"name": "vl"},
          "mark": {"type": "rule", "color": "#555555", "strokeWidth": 1, "strokeDash": [1, 2]},
          "encoding": {"x": {"field": "x", "type": "quantitative", "axis": null}}
        },
        {
          "data": {"name": "mdl"},
          "transform": [{"filter": "datum.p == 'f'"}],
          "mark": {"type": "line", "strokeWidth": 2.5, "strokeDash": [8, 4]},
          "encoding": {
            "x": {"field": "x", "type": "quantitative", "axis": null},
            "y": {"field": "y", "type": "quantitative", "axis": null},
            "color": {"field": "k", "type": "nominal", "legend": null}
          }
        },
        {
          "data": {"name": "pts"},
          "transform": [{"filter": "datum.p == 'f'"}],
          "mark": {"type": "errorbar", "thickness": 3, "opacity": 0.5},
          "encoding": {
            "x": {"field": "x", "type": "quantitative", "scale": {"domain": [-0.0123, 0.0123], "nice": false, "zero": false},
                  "axis": {"orient": "bottom", "labels": false, "title": null,
                           "values": [-0.012, -0.011, -0.01, -0.009, -0.008, -0.007, -0.006, -0.005, -0.004, -0.003, -0.002, -0.001, 0, 0.001, 0.002, 0.003, 0.004, 0.005, 0.006, 0.007, 0.008, 0.009, 0.01, 0.011, 0.012],
                           "tickSize": {"condition": {"test": "indexof([-0.01, -0.005, 0, 0.005, 0.01], datum.value) >= 0", "value": 12}, "value": 6}}},
            "y": {"field": "y", "type": "quantitative", "scale": {"domain": [1.5, 15], "nice": false, "zero": false},
                  "axis": {"orient": "left", "title": "FWHM (km s⁻¹)", "titlePadding": 10,
                           "values": [2, 3, 4, 5, 6, 7, 8, 9, 10, 11, 12, 13, 14, 15],
                           "labelExpr": "indexof([5, 10, 15], datum.value) >= 0 ? format(datum.value, 'd') : ''",
                           "tickSize": {"condition": {"test": "indexof([5, 10, 15], datum.value) >= 0", "value": 12}, "value": 6}}},
            "yError": {"field": "e"},
            "color": {"field": "k", "type": "nominal", "legend": null}
          }
        },
        {
          "data": {"name": "pts"},
          "transform": [{"filter": "datum.p == 'f'"}],
          "mark": {"type": "square", "size": 55, "opacity": 1},
          "encoding": {
            "x": {"field": "x", "type": "quantitative",
                  "axis": {"orient": "top", "labels": false, "title": null,
                           "values": [-0.012, -0.011, -0.01, -0.009, -0.008, -0.007, -0.006, -0.005, -0.004, -0.003, -0.002, -0.001, 0, 0.001, 0.002, 0.003, 0.004, 0.005, 0.006, 0.007, 0.008, 0.009, 0.01, 0.011, 0.012],
                           "tickSize": {"condition": {"test": "indexof([-0.01, -0.005, 0, 0.005, 0.01], datum.value) >= 0", "value": 12}, "value": 6}}},
            "y": {"field": "y", "type": "quantitative",
                  "axis": {"orient": "right", "labels": false, "title": null,
                           "values": [2, 3, 4, 5, 6, 7, 8, 9, 10, 11, 12, 13, 14, 15],
                           "tickSize": {"condition": {"test": "indexof([5, 10, 15], datum.value) >= 0", "value": 12}, "value": 6}}},
            "color": {"field": "k", "type": "nominal", "legend": null}
          }
        }
      ],
      "resolve": {"axis": {"x": "independent", "y": "independent"}}
    },
    {
      "width": 1079,
      "height": 388,
      "layer": [
        {
          "data": {"name": "vl"},
          "mark": {"type": "rule", "color": "#555555", "strokeWidth": 1, "strokeDash": [1, 2]},
          "encoding": {"x": {"field": "x", "type": "quantitative", "axis": null}}
        },
        {
          "data": {"values": [{"y": 0}]},
          "mark": {"type": "rule", "color": "black", "strokeWidth": 1, "strokeDash": [1, 2]},
          "encoding": {"y": {"field": "y", "type": "quantitative", "axis": null}}
        },
        {
          "data": {"name": "mdl"},
          "transform": [{"filter": "datum.p == 'v'"}],
          "mark": {"type": "line", "strokeWidth": 2.5, "strokeDash": [8, 4], "color": "black", "interpolate": "monotone"},
          "encoding": {
            "x": {"field": "x", "type": "quantitative", "axis": null},
            "y": {"field": "y", "type": "quantitative", "axis": null}
          }
        },
        {
          "data": {"name": "pts"},
          "transform": [{"filter": "datum.p == 'v'"}],
          "mark": {"type": "errorbar", "thickness": 3, "opacity": 0.5},
          "encoding": {
            "x": {"field": "x", "type": "quantitative", "scale": {"domain": [-0.0123, 0.0123], "nice": false, "zero": false},
                  "axis": {"orient": "bottom", "title": "Orbital phase", "titlePadding": 4,
                           "values": [-0.012, -0.011, -0.01, -0.009, -0.008, -0.007, -0.006, -0.005, -0.004, -0.003, -0.002, -0.001, 0, 0.001, 0.002, 0.003, 0.004, 0.005, 0.006, 0.007, 0.008, 0.009, 0.01, 0.011, 0.012],
                           "labelExpr": "indexof([-0.01, -0.005, 0, 0.005, 0.01], datum.value) >= 0 ? (datum.value < 0 ? '-' : '') + format(abs(datum.value), '.3f') : ''",
                           "tickSize": {"condition": {"test": "indexof([-0.01, -0.005, 0, 0.005, 0.01], datum.value) >= 0", "value": 12}, "value": 6}}},
            "y": {"field": "y", "type": "quantitative", "scale": {"domain": [-2.5, 2.5], "nice": false, "zero": false},
                  "axis": {"orient": "left", "title": "Surface RV (km s⁻¹)", "titlePadding": 10,
                           "values": [-2.5, -2, -1.5, -1, -0.5, 0, 0.5, 1, 1.5, 2, 2.5],
                           "labelExpr": "indexof([-2, -1, 0, 1, 2], datum.value) >= 0 ? (datum.value < 0 ? '-' : '') + format(abs(datum.value), 'd') : ''",
                           "tickSize": {"condition": {"test": "indexof([-2, -1, 0, 1, 2], datum.value) >= 0", "value": 12}, "value": 6}}},
            "yError": {"field": "e"},
            "color": {"field": "k", "type": "nominal", "legend": null}
          }
        },
        {
          "data": {"name": "pts"},
          "transform": [{"filter": "datum.p == 'v'"}],
          "mark": {"type": "square", "size": 55, "opacity": 1},
          "encoding": {
            "x": {"field": "x", "type": "quantitative",
                  "axis": {"orient": "top", "labels": false, "title": null,
                           "values": [-0.012, -0.011, -0.01, -0.009, -0.008, -0.007, -0.006, -0.005, -0.004, -0.003, -0.002, -0.001, 0, 0.001, 0.002, 0.003, 0.004, 0.005, 0.006, 0.007, 0.008, 0.009, 0.01, 0.011, 0.012],
                           "tickSize": {"condition": {"test": "indexof([-0.01, -0.005, 0, 0.005, 0.01], datum.value) >= 0", "value": 12}, "value": 6}}},
            "y": {"field": "y", "type": "quantitative",
                  "axis": {"orient": "right", "labels": false, "title": null,
                           "values": [-2.5, -2, -1.5, -1, -0.5, 0, 0.5, 1, 1.5, 2, 2.5],
                           "tickSize": {"condition": {"test": "indexof([-2, -1, 0, 1, 2], datum.value) >= 0", "value": 12}, "value": 6}}},
            "color": {"field": "k", "type": "nominal", "legend": null}
          }
        },
        {
          "data": {"name": "bins"},
          "mark": {"type": "errorbar", "thickness": 3, "color": "black"},
          "encoding": {
            "x": {"field": "x", "type": "quantitative", "axis": null},
            "y": {"field": "y", "type": "quantitative", "axis": null},
            "yError": {"field": "e"}
          }
        },
        {
          "data": {"name": "bins"},
          "mark": {"type": "point", "shape": "M0,-1L0.6,0L0,1L-0.6,0Z", "size": 130, "filled": true, "fill": "white", "stroke": "black", "strokeWidth": 2, "opacity": 1},
          "encoding": {
            "x": {"field": "x", "type": "quantitative", "axis": null},
            "y": {"field": "y", "type": "quantitative", "axis": null}
          }
        }
      ],
      "resolve": {"axis": {"x": "independent", "y": "independent"}}
    }
  ]
}
